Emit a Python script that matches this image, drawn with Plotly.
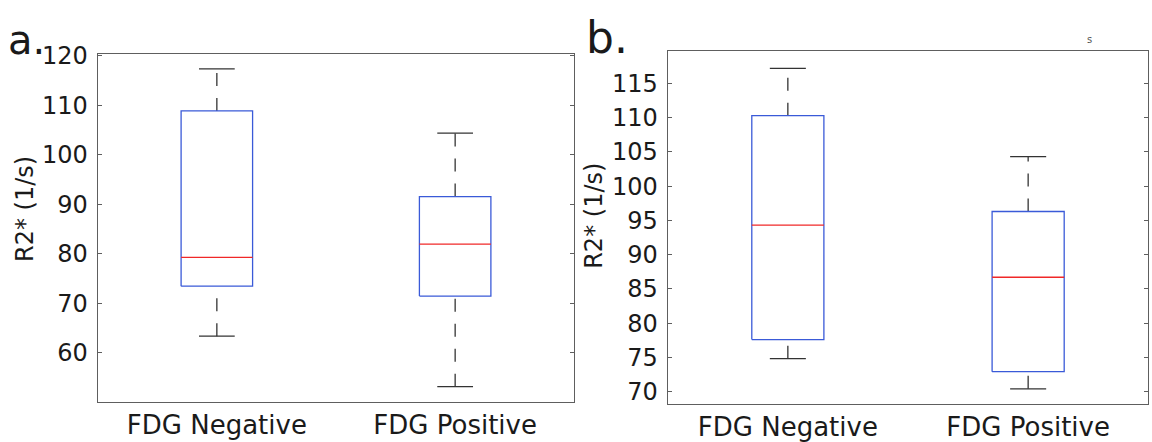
import plotly.graph_objects as go

# ---- data ----
categories = ["FDG Negative", "FDG Positive"]

a_lower = [63.4, 53.2]
a_q1 = [73.5, 71.5]
a_median = [79.3, 82.0]
a_q3 = [108.9, 91.6]
a_upper = [117.4, 104.4]

b_lower = [74.8, 70.4]
b_q1 = [77.6, 72.9]
b_median = [94.3, 86.7]
b_q3 = [110.3, 96.3]
b_upper = [117.2, 104.3]

a_ticks = [60, 70, 80, 90, 100, 110, 120]
b_ticks = [70, 75, 80, 85, 90, 95, 100, 105, 110, 115]

y_title = "R2* (1/s)"

# ---- style ----
FONT = "DejaVu Sans"
BLUE = "#3a5ad8"
RED = "#f02828"
WHISK = "#333333"
AXIS = "#5e5e5e"
TXT = "#1a1a1a"
HALF_BOX = 0.15
HALF_CAP = 0.075

fig = go.Figure()


def add_panel(xref, yref, lower, q1, med, q3, upper):
    for i, _ in enumerate(categories):
        x = i + 1
        # whiskers (dashed), drawn from low to high value
        for lo, hi in ((lower[i], q1[i]), (q3[i], upper[i])):
            fig.add_trace(go.Scatter(
                x=[x, x], y=[lo, hi], mode="lines", xaxis=xref, yaxis=yref,
                line=dict(color=WHISK, width=1.3, dash="13px,12px"),
                hoverinfo="skip", showlegend=False))
        # caps
        for v in (lower[i], upper[i]):
            fig.add_trace(go.Scatter(
                x=[x - HALF_CAP, x + HALF_CAP], y=[v, v], mode="lines",
                xaxis=xref, yaxis=yref,
                line=dict(color=WHISK, width=1.3),
                hoverinfo="skip", showlegend=False))
        # box
        fig.add_trace(go.Scatter(
            x=[x - HALF_BOX, x + HALF_BOX, x + HALF_BOX, x - HALF_BOX, x - HALF_BOX],
            y=[q1[i], q1[i], q3[i], q3[i], q1[i]], mode="lines",
            xaxis=xref, yaxis=yref,
            line=dict(color=BLUE, width=1.3),
            hoverinfo="skip", showlegend=False))
        # median
        fig.add_trace(go.Scatter(
            x=[x - HALF_BOX, x + HALF_BOX], y=[med[i], med[i]], mode="lines",
            xaxis=xref, yaxis=yref,
            line=dict(color=RED, width=1.3),
            hoverinfo="skip", showlegend=False))


add_panel("x", "y", a_lower, a_q1, a_median, a_q3, a_upper)
add_panel("x2", "y2", b_lower, b_q1, b_median, b_q3, b_upper)

xcommon = dict(
    range=[0.5, 2.5], tickvals=[1, 2], ticktext=categories, ticks="",
    showline=True, mirror=True, linecolor=AXIS, linewidth=1,
    showgrid=False, zeroline=False,
    tickfont=dict(family=FONT, size=26, color=TXT),
)
ycommon = dict(
    ticks="inside", ticklen=4, tickcolor=AXIS, tickwidth=1,
    showline=True, mirror="ticks", linecolor=AXIS, linewidth=1,
    showgrid=False, zeroline=False, ticklabelstandoff=4,
    tickfont=dict(family=FONT, size=24, color=TXT),
)

fig.update_layout(
    width=1152, height=442,
    margin=dict(l=0, r=0, t=0, b=0),
    paper_bgcolor="white", plot_bgcolor="white",
    showlegend=False,
    xaxis=dict(domain=[97.7 / 1152, 574.3 / 1152], **xcommon),
    yaxis=dict(domain=[1 - 405 / 442, 1 - 44 / 442], range=[50.05, 120.5],
               tickvals=a_ticks, ticktext=[str(t) for t in a_ticks], **ycommon),
    xaxis2=dict(domain=[667.7 / 1152, 1148.3 / 1152], anchor="y2", **xcommon),
    yaxis2=dict(domain=[1 - 406.7 / 442, 1 - 41.7 / 442], range=[68.2, 119.7],
                anchor="x2",
                tickvals=b_ticks, ticktext=[str(t) for t in b_ticks], **ycommon),
    annotations=[
        dict(text=y_title, textangle=-90, x=25 / 1152, y=1 - 205 / 442,
             xref="paper", yref="paper", showarrow=False,
             xanchor="center", yanchor="middle",
             font=dict(family=FONT, size=24, color=TXT)),
        dict(text=y_title, textangle=-90, x=594 / 1152, y=1 - 212 / 442,
             xref="paper", yref="paper", showarrow=False,
             xanchor="center", yanchor="middle",
             font=dict(family=FONT, size=24, color=TXT)),
        dict(text="a.", x=6 / 1152, y=1 - 30 / 442, xref="paper", yref="paper",
             showarrow=False, xanchor="left", yanchor="middle",
             font=dict(family=FONT, size=40, color=TXT)),
        dict(text="b.", x=584 / 1152, y=1 - 27 / 442, xref="paper", yref="paper",
             showarrow=False, xanchor="left", yanchor="middle",
             font=dict(family=FONT, size=44, color=TXT)),
        dict(text="s", x=1089 / 1152, y=1 - 30 / 442, xref="paper", yref="paper",
             showarrow=False, xanchor="center", yanchor="middle",
             font=dict(family=FONT, size=10, color="#555555")),
    ],
)

fig.write_html("out.html")
